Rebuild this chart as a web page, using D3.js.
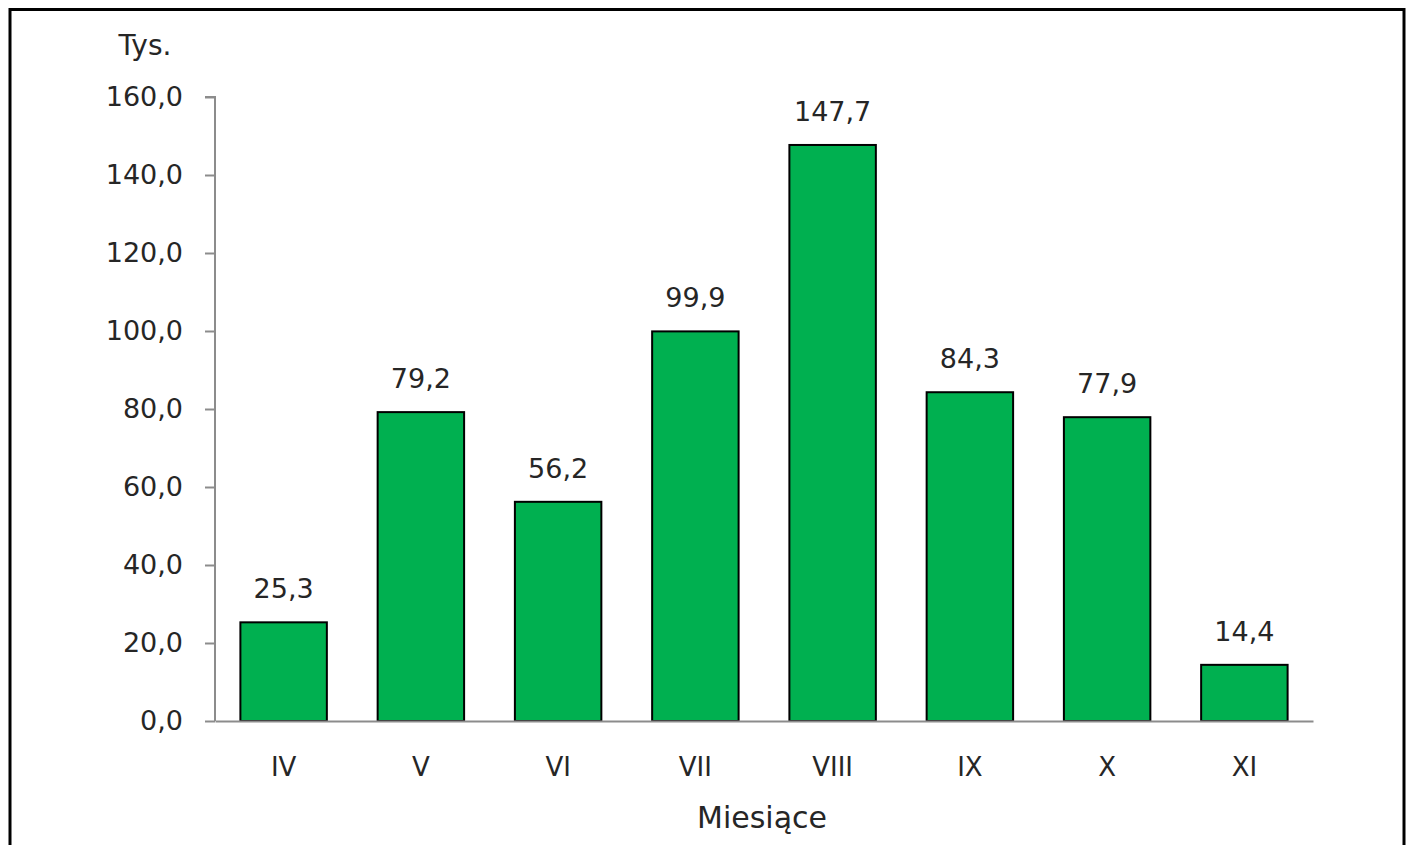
<!DOCTYPE html>
<html>
<head>
<meta charset="utf-8">
<script src="https://cdn.jsdelivr.net/npm/d3@7"></script>
<style>
  body { margin: 0; background: #fff; }
  text { font-family: "DejaVu Sans", Verdana, sans-serif; fill: #262626; }
</style>
</head>
<body>
<div id="chart"></div>
<script>
// data
var months = ["IV", "V", "VI", "VII", "VIII", "IX", "X", "XI"];
var values = [25.3, 79.2, 56.2, 99.9, 147.7, 84.3, 77.9, 14.4];
var yTicks = [0, 20, 40, 60, 80, 100, 120, 140, 160];

var W = 1408, H = 845;
var margin = {top: 97, right: 95, bottom: 124, left: 215},
  width = W - margin.left - margin.right,
  height = H - margin.top - margin.bottom;

var fmt = function(v) { return v.toFixed(1).replace(".", ","); };

var root = d3.select("#chart")
  .append("svg")
    .attr("width", W)
    .attr("height", H);

// outer frame
root.append("rect")
  .attr("x", 10).attr("y", 9.5)
  .attr("width", 1394).attr("height", 850)
  .attr("fill", "none")
  .attr("stroke", "#000")
  .attr("stroke-width", 3);

var svg = root.append("g")
  .attr("transform", "translate(" + margin.left + "," + margin.top + ")");

var x = d3.scaleBand()
  .domain(months)
  .range([0, width])
  .paddingInner(0.37)
  .paddingOuter(0.185);

var y = d3.scaleLinear()
  .domain([0, 160])
  .range([height, 0]);

// Y axis
var yAxis = svg.append("g")
  .call(d3.axisLeft(y).tickValues(yTicks).tickFormat(fmt).tickSize(10).tickPadding(22));
yAxis.selectAll("path, line").attr("stroke", "#8c8c8c").attr("stroke-width", 2);
yAxis.select(".domain").attr("d", "M-10,0H0V" + height);
yAxis.selectAll("text").style("font-size", "27px").attr("fill", "#262626");

// bars
svg.selectAll(".bar")
  .data(values)
  .join("rect")
    .attr("class", "bar")
    .attr("x", function(d, i) { return x(months[i]); })
    .attr("y", function(d) { return y(d); })
    .attr("width", x.bandwidth())
    .attr("height", function(d) { return height - y(d); })
    .attr("fill", "#00b050")
    .attr("stroke", "#000")
    .attr("stroke-width", 2);

// value labels
svg.selectAll(".val")
  .data(values)
  .join("text")
    .attr("class", "val")
    .attr("x", function(d, i) { return x(months[i]) + x.bandwidth() / 2; })
    .attr("y", function(d) { return y(d) - 24; })
    .attr("text-anchor", "middle")
    .style("font-size", "27px")
    .text(fmt);

// X axis
var xAxis = svg.append("g")
  .attr("transform", "translate(0," + height + ")")
  .call(d3.axisBottom(x).tickSize(0).tickPadding(37));
xAxis.select(".domain").attr("stroke", "#8c8c8c").attr("stroke-width", 2);
xAxis.selectAll("text").style("font-size", "26px").attr("fill", "#262626");

// axis titles
root.append("text")
  .attr("x", 762).attr("y", 828)
  .attr("text-anchor", "middle")
  .style("font-size", "30px")
  .text("Miesiące");

root.append("text")
  .attr("x", 145).attr("y", 55)
  .attr("text-anchor", "middle")
  .style("font-size", "28px")
  .text("Tys.");
</script>
</body>
</html>
